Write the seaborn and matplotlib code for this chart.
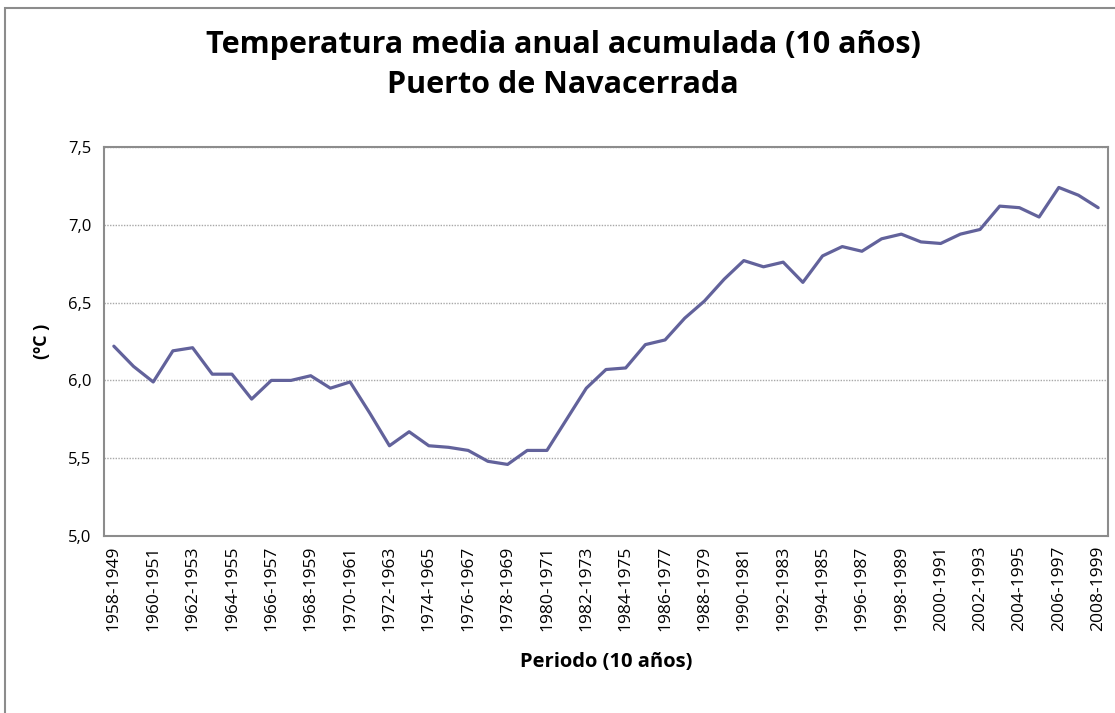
import matplotlib
matplotlib.use("Agg")
import matplotlib.pyplot as plt
import seaborn as sns
import pandas as pd
from matplotlib.patches import Rectangle
from matplotlib.ticker import FixedLocator

# periods (10-year windows) and accumulated mean temperature (ºC)
periodos = [f"{a}-{a - 9}" for a in range(1958, 2009)]
temperatura = [
    6.22, 6.09, 5.99, 6.19, 6.21, 6.04, 6.04, 5.88, 6.00, 6.00,
    6.03, 5.95, 5.99, 5.79, 5.58, 5.67, 5.58, 5.57, 5.55, 5.48,
    5.46, 5.55, 5.55, 5.75, 5.95, 6.07, 6.08, 6.23, 6.26, 6.40,
    6.51, 6.65, 6.77, 6.73, 6.76, 6.63, 6.80, 6.86, 6.83, 6.91,
    6.94, 6.89, 6.88, 6.94, 6.97, 7.12, 7.11, 7.05, 7.24, 7.19,
    7.11,
]
y_ticks = [5.0, 5.5, 6.0, 6.5, 7.0, 7.5]

df = pd.DataFrame({"pos": range(len(periodos)), "periodo": periodos, "temp": temperatura})

sns.set_style("white")
plt.rcParams["font.family"] = ["Open Sans", "DejaVu Sans"]
plt.rcParams["text.color"] = "black"
plt.rcParams["axes.labelcolor"] = "black"
plt.rcParams["xtick.color"] = "black"
plt.rcParams["ytick.color"] = "black"

fig = plt.figure(figsize=(11.15, 7.13), dpi=100)
ax = fig.add_axes([104 / 1115, 1 - 536 / 713, (1108 - 104) / 1115, (536 - 147) / 713])

sns.lineplot(data=df, x="pos", y="temp", ax=ax, color="#62629B", linewidth=2.3)

ax.set_xlim(-0.5, len(periodos) - 0.5)
ax.set_ylim(5.0, 7.5)

# y axis
ax.set_yticks(y_ticks)
ax.set_yticklabels([f"{v:.1f}".replace(".", ",") for v in y_ticks], fontsize=12)
ax.yaxis.grid(True, color="#A8A8A8", linestyle=(0, (1, 1)), linewidth=1)
ax.tick_params(axis="y", direction="out", length=5, width=1.2, color="#888888", pad=4)

# x axis: labels every other period, ticks between categories
ax.set_xticks(df["pos"][::2])
ax.set_xticklabels(df["periodo"][::2], rotation=90, fontsize=12.5)
ax.tick_params(axis="x", which="major", length=0, pad=7)
ax.xaxis.set_minor_locator(FixedLocator([p - 0.5 for p in range(len(periodos) + 1)]))
ax.tick_params(axis="x", which="minor", direction="out", length=5, width=1.2, color="#888888")

for s in ax.spines.values():
    s.set_color("#8C8C8C")
    s.set_linewidth(1.5)

ax.set_xlabel("Periodo (10 años)", fontsize=14.5, fontweight="bold", labelpad=15)
ax.set_ylabel("(ºC )", fontsize=13, fontweight="bold", labelpad=12)

fig.text(0.505, 1 - 45 / 713, "Temperatura media anual acumulada (10 años)",
         ha="center", va="center", fontsize=22, fontweight="bold")
fig.text(0.505, 1 - 85 / 713, "Puerto de Navacerrada",
         ha="center", va="center", fontsize=22, fontweight="bold")

# outer chart-area border
fig.patches.append(Rectangle((5 / 1115, -0.05), 1.2, 1 - 8 / 713 + 0.05,
                             transform=fig.transFigure, fill=False,
                             edgecolor="#8C8C8C", linewidth=1.5))

fig.savefig("out.png", dpi=100)
